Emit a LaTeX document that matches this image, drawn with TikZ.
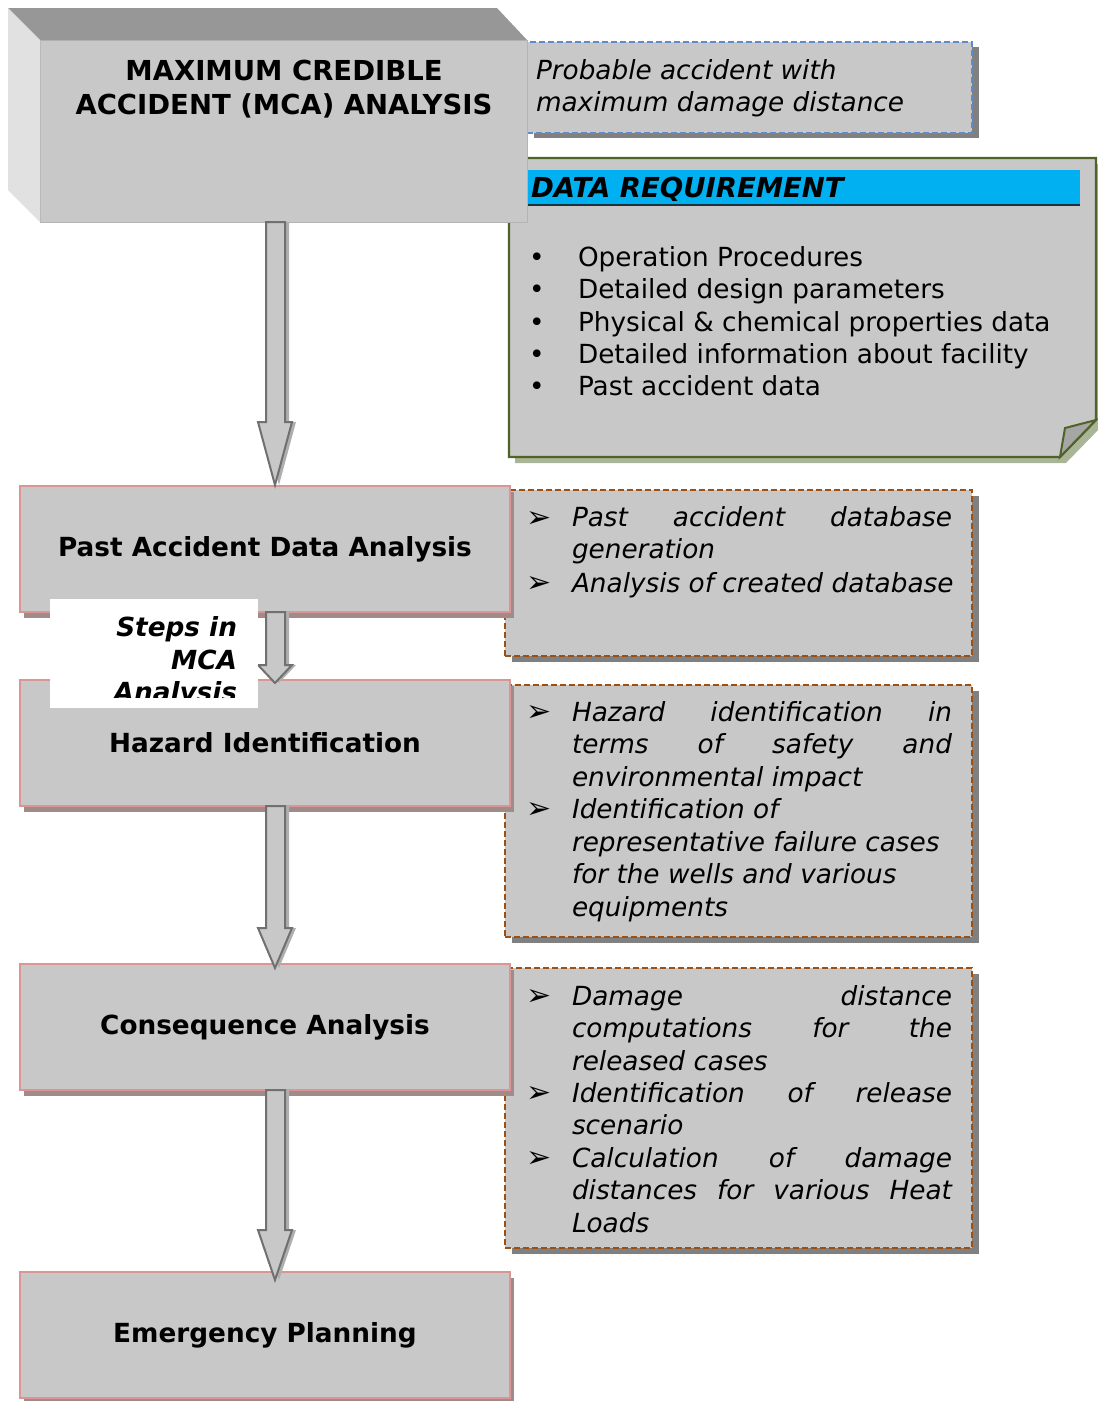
\documentclass[tikz,border=0pt]{standalone}
\usepackage{fontspec}
\setmainfont{DejaVu Sans}
\usetikzlibrary{calc,shadows}
\definecolor{boxgray}{RGB}{200,200,200}
\definecolor{pinkb}{RGB}{217,150,148}
\definecolor{pinkshadow}{RGB}{160,138,138}
\definecolor{brownb}{RGB}{158,80,18}
\definecolor{blueb}{RGB}{95,140,200}
\definecolor{shadowgray}{RGB}{128,128,128}
\definecolor{greenb}{RGB}{79,98,40}
\definecolor{greenshadow}{RGB}{170,180,150}
\definecolor{hdrblue}{RGB}{0,176,240}
\definecolor{hdrline}{RGB}{30,50,60}
\definecolor{topgray}{RGB}{151,151,151}
\definecolor{leftgray}{RGB}{225,225,225}
\definecolor{mcaedge}{RGB}{180,180,180}
\definecolor{arrowedge}{RGB}{112,112,112}
\definecolor{arrowshadow}{RGB}{175,175,175}
\definecolor{foldgray}{RGB}{166,166,166}
\newcommand{\myfs}{\fontsize{26.3}{32.5}\selectfont}
\newcommand{\mybigfs}{\fontsize{27.5}{33}\selectfont}
\newcommand{\jl}[1]{\hbox to 380pt{#1}}
\newcommand{\blockarrow}[4]{%
  \foreach \sh/\sty in {4/arrowshade, 0/arrowbody}{%
    \path[\sty, shift={(\sh,\sh)}] let \p1=(#1.south), \p2=(#2.north) in
      (266pt,\y1) -- (285pt,\y1) -- (285pt,{\y2-#4pt+#3pt}) -- (292pt,{\y2-#4pt+#3pt})
      -- (275pt,{\y2-#4pt}) -- (258pt,{\y2-#4pt+#3pt}) -- (266pt,{\y2-#4pt+#3pt}) -- cycle;}%
}
\tikzset{
  txt/.style={font=\myfs},
  btxt/.style={font=\myfs\bfseries},
  ttxt/.style={font=\mybigfs\bfseries},
  itxt/.style={font=\myfs\itshape},
  bitxt/.style={font=\myfs\bfseries\itshape},
  hitxt/.style={font=\mybigfs\bfseries\itshape},
  arr/.style={font=\fontsize{30}{30}\selectfont},
  stepbox/.style={draw=pinkb, line width=1.5, fill=boxgray,
    drop shadow={shadow xshift=4pt, shadow yshift=-6pt, opacity=1, fill=pinkshadow}},
  dbox/.style={draw=brownb, line width=1.8, dash pattern=on 6pt off 3pt, fill=boxgray,
    drop shadow={shadow xshift=7pt, shadow yshift=-6pt, opacity=1, fill=shadowgray}},
  bbox/.style={draw=blueb, line width=1.8, dash pattern=on 6pt off 3pt, fill=boxgray,
    drop shadow={shadow xshift=7pt, shadow yshift=-5pt, opacity=1, fill=shadowgray}},
  databox/.style={draw=greenb, line width=2.2, fill=boxgray},
  arrowbody/.style={draw=arrowedge, line width=2, fill=boxgray},
  arrowshade/.style={fill=arrowshadow},
}
\begin{document}
\begin{tikzpicture}[x=1pt,y=-1pt, every node/.style={inner sep=0pt, outer sep=0pt}]
\useasboundingbox (0,0) rectangle (1098,1401);

% ---------- data requirement box ----------
\node[anchor=north west, minimum width=587, minimum height=299] (dr) at (509,158) {};
\coordinate (f1) at ($(dr.south east)+(0,-37)$);
\coordinate (f2) at ($(dr.south east)+(-36,0)$);
\coordinate (f3) at ($(dr.south east)+(-31,-29)$);
\fill[greenshadow] ($(dr.north west)+(6,6)$) -- ($(dr.north east)+(6,6)$) -- ($(f1)+(6,6)$)
  -- ($(f2)+(6,6)$) -- ($(dr.south west)+(6,6)$) -- cycle;
\filldraw[databox] (dr.north west) -- (dr.north east) -- (f1) -- (f2) -- (dr.south west) -- cycle;
\filldraw[draw=greenb, line width=2, fill=foldgray] (f1) -- (f3) -- (f2) -- cycle;
\node[anchor=north west, fill=hdrblue, minimum width=553, minimum height=35] (hdr) at (527,170) {};
\draw[hdrline, line width=1.5] (hdr.south west) -- (hdr.south east);
\node[hitxt, anchor=base west] (hdrt) at (531,197) {DATA REQUIREMENT};
\node[txt, anchor=base] (db1) at (537,266) {•};
\node[txt, anchor=base west] (dt1) at (578,266) {Operation Procedures};
\node[txt, anchor=base] (db2) at (537,298) {•};
\node[txt, anchor=base west] (dt2) at (578,298) {Detailed design parameters};
\node[txt, anchor=base] (db3) at (537,331) {•};
\node[txt, anchor=base west] (dt3) at (578,331) {Physical \& chemical properties data};
\node[txt, anchor=base] (db4) at (537,363) {•};
\node[txt, anchor=base west] (dt4) at (578,363) {Detailed information about facility};
\node[txt, anchor=base] (db5) at (537,395) {•};
\node[txt, anchor=base west] (dt5) at (578,395) {Past accident data};

% ---------- probable accident box ----------
\node[bbox, anchor=north west, minimum width=445, minimum height=91] (pb) at (527,42) {};
\node[itxt, anchor=base west] (pbt1) at (536,79) {Probable accident with};
\node[itxt, anchor=base west] (pbt2) at (536,111) {maximum damage distance};

% ---------- MCA 3D box ----------
\node[anchor=north west, minimum width=487, minimum height=182, fill=boxgray, draw=mcaedge, line width=1] (mca) at (40,40) {};
\fill[topgray] ($(mca.north west)+(-32,-32)$) -- ($(mca.north east)+(-30,-32)$) -- (mca.north east) -- (mca.north west) -- cycle;
\fill[leftgray] ($(mca.north west)+(-32,-32)$) -- (mca.north west) -- (mca.south west) -- ($(mca.south west)+(-32,-32)$) -- cycle;
\node[ttxt, anchor=base] (mcat1) at (284,80) {MAXIMUM CREDIBLE};
\node[ttxt, anchor=base] (mcat2) at (284,114) {ACCIDENT (MCA) ANALYSIS};

% ---------- right dashed boxes ----------
\node[dbox, anchor=north west, minimum width=467, minimum height=166] (ra) at (505,490) {};
\node[arr, anchor=base west] (rab1) at (526,527) {➢};
\node[itxt, anchor=base west] (ra1) at (572,526) {\jl{Past\hfill accident\hfill database}};
\node[itxt, anchor=base west] (ra2) at (572,558) {generation};
\node[arr, anchor=base west] (rab2) at (526,592) {➢};
\node[itxt, anchor=base west] (ra3) at (572,592) {Analysis of created database};

\node[dbox, anchor=north west, minimum width=467, minimum height=252] (rb) at (505,685) {};
\node[arr, anchor=base west] (rbb1) at (526,721) {➢};
\node[itxt, anchor=base west] (rb1) at (572,721) {\jl{Hazard\hfill identification\hfill in}};
\node[itxt, anchor=base west] (rb2) at (572,753) {\jl{terms\hfill of\hfill safety\hfill and}};
\node[itxt, anchor=base west] (rb3) at (572,786) {environmental impact};
\node[arr, anchor=base west] (rbb2) at (526,818) {➢};
\node[itxt, anchor=base west] (rb4) at (572,818) {Identification of};
\node[itxt, anchor=base west] (rb5) at (572,851) {representative failure cases};
\node[itxt, anchor=base west] (rb6) at (572,883) {for the wells and various};
\node[itxt, anchor=base west] (rb7) at (572,916) {equipments};

\node[dbox, anchor=north west, minimum width=467, minimum height=280] (rc) at (505,968) {};
\node[arr, anchor=base west] (rcb1) at (526,1005) {➢};
\node[itxt, anchor=base west] (rc1) at (572,1005) {\jl{Damage\hfill distance}};
\node[itxt, anchor=base west] (rc2) at (572,1037) {\jl{computations\hfill for\hfill the}};
\node[itxt, anchor=base west] (rc3) at (572,1070) {released cases};
\node[arr, anchor=base west] (rcb2) at (526,1102) {➢};
\node[itxt, anchor=base west] (rc4) at (572,1102) {\jl{Identification\hfill of\hfill release}};
\node[itxt, anchor=base west] (rc5) at (572,1134) {scenario};
\node[arr, anchor=base west] (rcb3) at (526,1167) {➢};
\node[itxt, anchor=base west] (rc6) at (572,1167) {\jl{Calculation\hfill of\hfill damage}};
\node[itxt, anchor=base west] (rc7) at (572,1199) {\jl{distances\hfill for\hfill various\hfill Heat}};
\node[itxt, anchor=base west] (rc8) at (572,1232) {Loads};

% ---------- step boxes ----------
\node[stepbox, btxt, anchor=north west, minimum width=490, minimum height=126] (s1) at (20,486) {Past Accident Data Analysis};
\node[stepbox, btxt, anchor=north west, minimum width=490, minimum height=126] (s2) at (20,680) {Hazard Identification};
\node[stepbox, btxt, anchor=north west, minimum width=490, minimum height=126] (s3) at (20,964) {Consequence Analysis};
\node[stepbox, btxt, anchor=north west, minimum width=490, minimum height=126] (s4) at (20,1272) {Emergency Planning};

% ---------- block arrows ----------
\blockarrow{mca}{s1}{63}{-1}
\blockarrow{s1}{s2}{18}{3}
\blockarrow{s2}{s3}{40}{4}
\blockarrow{s3}{s4}{50}{8}

% ---------- steps label ----------
\node[fill=white, anchor=north west, minimum width=208, minimum height=109] (stepsbg) at (50,599) {};
\begin{scope}
\clip (stepsbg.north west) rectangle (258,697);
\node[bitxt, anchor=base east] (st1) at (237,636) {Steps in};
\node[bitxt, anchor=base east] (st2) at (237,669) {MCA};
\node[bitxt, anchor=base east] (st3) at (237,701) {Analysis};
\end{scope}
\end{tikzpicture}
\end{document}
